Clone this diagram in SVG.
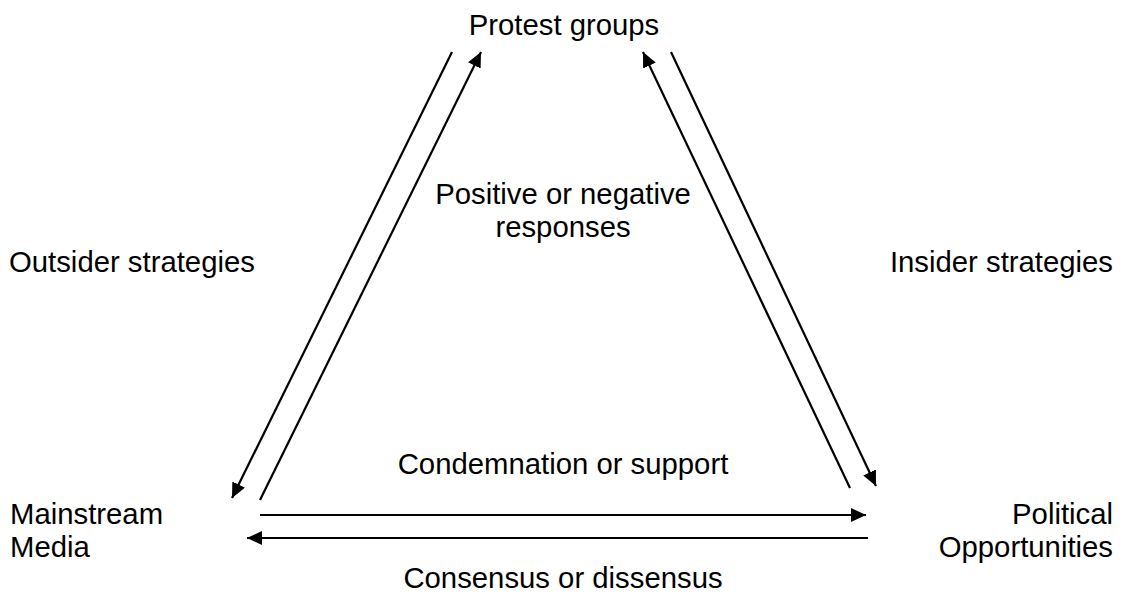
<svg xmlns="http://www.w3.org/2000/svg" width="1128" height="594" viewBox="0 0 1128 594">
<style>
text{font-family:"Liberation Sans",Arial,sans-serif;font-size:29.3px;fill:#000}
.c{text-anchor:middle}
.r{text-anchor:end}
.ln{stroke:#000;stroke-width:2.2;fill:none}
</style>
<defs>
<marker id="ah" viewBox="0 0 15 14" refX="15" refY="7" markerWidth="15" markerHeight="14" markerUnits="userSpaceOnUse" orient="auto">
<path d="M0,0 L15,7 L0,14 Z" fill="#000"/>
</marker>
</defs>
<rect width="1128" height="594" fill="#fff"/>
<g id="connectors">
<line class="ln" x1="452" y1="52" x2="232" y2="498" marker-end="url(#ah)"/>
<line class="ln" x1="260" y1="500" x2="481" y2="52" marker-end="url(#ah)"/>
<line class="ln" x1="850" y1="488" x2="643" y2="52" marker-end="url(#ah)"/>
<line class="ln" x1="671" y1="52" x2="876" y2="486" marker-end="url(#ah)"/>
<line class="ln" x1="260" y1="515" x2="866" y2="515" marker-end="url(#ah)"/>
<line class="ln" x1="868" y1="538" x2="247" y2="538" marker-end="url(#ah)"/>
</g>
<g id="protest"><text class="c" x="564" y="35">Protest groups</text></g>
<g id="media"><text x="10" y="524">Mainstream</text><text x="10" y="557">Media</text></g>
<g id="political"><text class="r" x="1113" y="524">Political</text><text class="r" x="1113" y="557">Opportunities</text></g>
<g id="labels">
<text x="9" y="272">Outsider strategies</text>
<text class="r" x="1113" y="272">Insider strategies</text>
<text class="c" x="563" y="204">Positive or negative</text>
<text class="c" x="563" y="237">responses</text>
<text class="c" x="563" y="474">Condemnation or support</text>
<text class="c" x="563" y="588">Consensus or dissensus</text>
</g>
</svg>
